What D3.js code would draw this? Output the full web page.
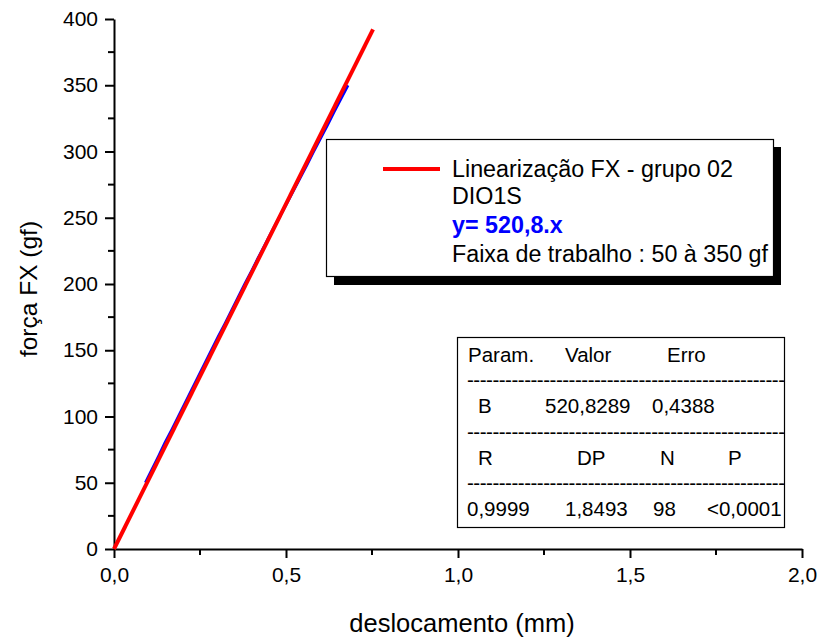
<!DOCTYPE html>
<html><head><meta charset="utf-8">
<script src="https://cdn.jsdelivr.net/npm/d3@7"></script>
<style>body{margin:0;background:#fff}svg{display:block}text{font-family:Arial,"Liberation Sans",sans-serif}</style>
</head><body><svg id="c" width="820" height="641"></svg>
<script>
// Measured data (deslocamento mm, força gf)
const dataX = [0.0915,0.1107,0.1299,0.1481,0.1683,0.1875,0.2067,0.2259,0.2451,0.2643,0.2835,0.3027,0.3229,0.3421,0.3613,0.3805,0.4007,0.4199,0.4401,0.4598,0.4800,0.5002,0.5204,0.5406,0.5608,0.5800,0.6002,0.6204,0.6396,0.6598,0.6800];
const dataY = [50,60,70,80,90,100,110,120,130,140,150,160,170,180,190,200,210,220,230,240,250,260,270,280,290,300,310,320,330,340,350];
// Linear fit line endpoints
const fitX = [0, 0.753];
const fitY = [0, 392.2];
const xTicks = [0, 0.5, 1.0, 1.5, 2.0];
const xMinor = [0.25, 0.75, 1.25, 1.75];
const yTicks = [0,50,100,150,200,250,300,350,400];
const yMinor = [25,75,125,175,225,275,325,375];
const legendLines = ["Linearização FX - grupo 02","DIO1S","y= 520,8.x","Faixa de trabalho : 50 à 350 gf"];
const tableRows = [
  ["Param.","Valor","Erro"],
  ["B","520,8289","0,4388"],
  ["R","DP","N","P"],
  ["0,9999","1,8493","98","<0,0001"]
];

const svg = d3.select("#c");
const x = d3.scaleLinear().domain([0,2]).range([114,802]);
const y = d3.scaleLinear().domain([0,400]).range([549,19]);
const fmt = d => d3.format(".1f")(d).replace(".", ",");

// axes
const xa = svg.append("g").attr("transform","translate(0,549)")
  .call(d3.axisBottom(x).tickValues(xTicks).tickFormat(fmt).tickSize(9).tickSizeOuter(0));
xa.append("g").call(g=>g.selectAll("line.m").data(xMinor).join("line")
  .attr("x1",d=>x(d)).attr("x2",d=>x(d)).attr("y1",0).attr("y2",6).attr("stroke","#000").attr("stroke-width",2));
const ya = svg.append("g").attr("transform","translate(114,0)")
  .call(d3.axisLeft(y).tickValues(yTicks).tickSize(9).tickSizeOuter(0));
ya.append("g").call(g=>g.selectAll("line.m").data(yMinor).join("line")
  .attr("y1",d=>y(d)).attr("y2",d=>y(d)).attr("x1",0).attr("x2",-6).attr("stroke","#000").attr("stroke-width",2));
[xa,ya].forEach(a=>{
  a.select(".domain").attr("stroke","#000").attr("stroke-width",2);
  a.selectAll(".tick line").attr("stroke","#000").attr("stroke-width",2);
  a.selectAll(".tick text").attr("fill","#000").style("font-family","Arial, 'Liberation Sans', sans-serif").style("font-size","21px");
});
xa.selectAll(".tick text").attr("dy","1.0em");
ya.selectAll(".tick text").attr("x",-16);

// titles
svg.append("text").attr("x",462).attr("y",632).attr("text-anchor","middle").style("font-size","25.5px").text("deslocamento (mm)");
svg.append("text").attr("transform","translate(37,289) rotate(-90)").attr("text-anchor","middle").style("font-size","24.5px").text("força FX (gf)");

// data
const pts = dataX.map((d,i)=>[d,dataY[i]]);
svg.append("path").datum(pts).attr("fill","none").attr("stroke","#0000ff").attr("stroke-width",3)
  .attr("d",d3.line().x(d=>x(d[0])).y(d=>y(d[1])));
const fit = fitX.map((d,i)=>[d,fitY[i]]);
svg.append("path").datum(fit).attr("fill","none").attr("stroke","#ff0000").attr("stroke-width",4)
  .attr("d",d3.line().x(d=>x(d[0])).y(d=>y(d[1])));

// legend box
svg.append("rect").attr("x",334).attr("y",147).attr("width",447).attr("height",138).attr("fill","#000");
svg.append("rect").attr("x",326.5).attr("y",139.5).attr("width",447).attr("height",137).attr("fill","#fff").attr("stroke","#000").attr("stroke-width",1.2);
svg.append("line").attr("x1",383).attr("x2",440).attr("y1",169).attr("y2",169).attr("stroke","#ff0000").attr("stroke-width",4);
const ly = [177,204,233,262];
legendLines.forEach((t,i)=>{
  svg.append("text").attr("x",452).attr("y",ly[i]).style("font-size","23.3px")
    .attr("fill", i===2 ? "#0000ff" : "#000").style("font-weight", i===2 ? "bold" : "normal").text(t);
});

// table
svg.append("rect").attr("x",457.5).attr("y",337.5).attr("width",327).attr("height",190).attr("fill","#fff").attr("stroke","#000").attr("stroke-width",1.2);
const rowY = [362,413,465,516];
const colX = [
  [468,565,667],
  [478,545,652],
  [478,577,660,728],
  [467,565,653,707]
];
tableRows.forEach((r,i)=>r.forEach((t,j)=>{
  svg.append("text").attr("x",colX[i][j]).attr("y",rowY[i]).style("font-size","20.5px").text(t);
}));
[382,434,485].forEach(yy=>{
  svg.append("text").attr("x",467).attr("y",yy+5).style("font-size","20.5px")
    .attr("textLength",318).attr("lengthAdjust","spacing").text("-".repeat(50));
});
</script></body></html>
